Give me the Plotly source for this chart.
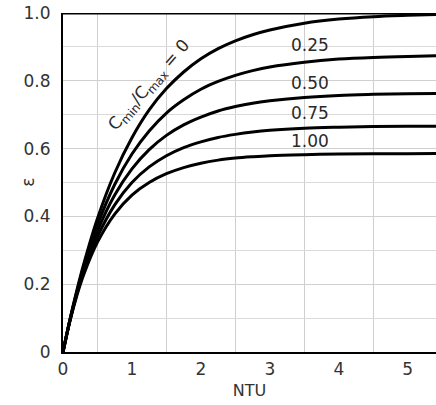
import plotly.graph_objects as go

ntu = [0, 0.1, 0.2, 0.3, 0.5, 0.75, 1.0, 1.25, 1.5, 1.75, 2.0, 2.25, 2.5, 2.75, 3.0, 3.5, 4.0, 4.5, 5.0, 5.5]

eps_cr_000 = [0, 0.095, 0.181, 0.259, 0.394, 0.528, 0.632, 0.714, 0.777, 0.826, 0.865, 0.895, 0.918, 0.936, 0.950, 0.970, 0.982, 0.989, 0.993, 0.996]
eps_cr_025 = [0, 0.094, 0.177, 0.251, 0.375, 0.494, 0.584, 0.652, 0.705, 0.744, 0.775, 0.798, 0.816, 0.830, 0.841, 0.855, 0.864, 0.869, 0.872, 0.874]
eps_cr_050 = [0, 0.093, 0.173, 0.243, 0.357, 0.463, 0.540, 0.597, 0.639, 0.670, 0.693, 0.711, 0.724, 0.734, 0.741, 0.751, 0.757, 0.760, 0.762, 0.763]
eps_cr_075 = [0, 0.092, 0.170, 0.235, 0.340, 0.434, 0.500, 0.546, 0.579, 0.603, 0.620, 0.633, 0.642, 0.649, 0.654, 0.660, 0.663, 0.665, 0.666, 0.666]
eps_cr_100 = [0, 0.091, 0.166, 0.228, 0.324, 0.407, 0.463, 0.500, 0.526, 0.544, 0.557, 0.566, 0.572, 0.576, 0.579, 0.582, 0.584, 0.585, 0.585, 0.586]

series = [eps_cr_000, eps_cr_025, eps_cr_050, eps_cr_075, eps_cr_100]

label_text = ["0.25", "0.50", "0.75", "1.00"]
label_x = [3.58, 3.58, 3.58, 3.58]
label_y = [0.905, 0.795, 0.705, 0.623]

x_ticks = [0, 1, 2, 3, 4, 5]
y_ticks = [0, 0.2, 0.4, 0.6, 0.8, 1.0]
y_tick_text = ["0", "0.2", "0.4", "0.6", "0.8", "1.0"]

FONT = "DejaVu Sans"

fig = go.Figure()
for s in series:
    fig.add_trace(go.Scatter(x=ntu, y=s, mode="lines",
                             line=dict(color="black", width=3, shape="spline", smoothing=1.0),
                             showlegend=False, hoverinfo="skip"))

for t, x, y in zip(label_text, label_x, label_y):
    fig.add_annotation(x=x, y=y, text=t, showarrow=False, font=dict(family=FONT, size=17, color="#2a2a2a"))

fig.add_annotation(x=1.26, y=0.785, text="C<sub>min</sub>/C<sub>max</sub> = 0", textangle=-49, showarrow=False,
                   font=dict(family=FONT, size=17, color="#2a2a2a"))

# y-axis title
fig.add_annotation(xref="paper", yref="paper", x=-0.128, y=0.5, text="ε", textangle=-90, showarrow=False,
                   font=dict(family=FONT, size=17, color="#333"))

fig.add_shape(type="line", xref="paper", yref="y", x0=0, x1=1, y0=1.0, y1=1.0, line=dict(color="black", width=3))

fig.update_layout(
    width=436, height=405,
    margin=dict(l=63, r=0, t=13, b=53),
    paper_bgcolor="white", plot_bgcolor="white",
    font=dict(family=FONT, size=17, color="#333"),
    xaxis=dict(range=[0, 5.41], tickvals=x_ticks, showgrid=False, zeroline=False, automargin=False,
               showline=True, linecolor="black", linewidth=2, ticks="", ticklabelstandoff=1,
               ticklabeloverflow="allow",
               minor=dict(dtick=1, tick0=0.5, showgrid=True, gridcolor="#cfcfcf", gridwidth=1),
               title=dict(text="NTU", font=dict(size=16), standoff=6)),
    yaxis=dict(range=[0, 1.0], tickvals=y_ticks, ticktext=y_tick_text, showgrid=True, gridcolor="#d0d0d0",
               zeroline=False, showline=True, linecolor="black", linewidth=2, ticks="", ticklabelstandoff=7,
               automargin=False, ticklabeloverflow="allow",
               minor=dict(dtick=0.1, showgrid=True, gridcolor="#dadada", gridwidth=1)),
)

# remove the browser's default 8px page margin so the figure fills the window exactly
fig.write_html("out.html", config={"displayModeBar": False},
               post_script="document.body.style.margin='0';")
